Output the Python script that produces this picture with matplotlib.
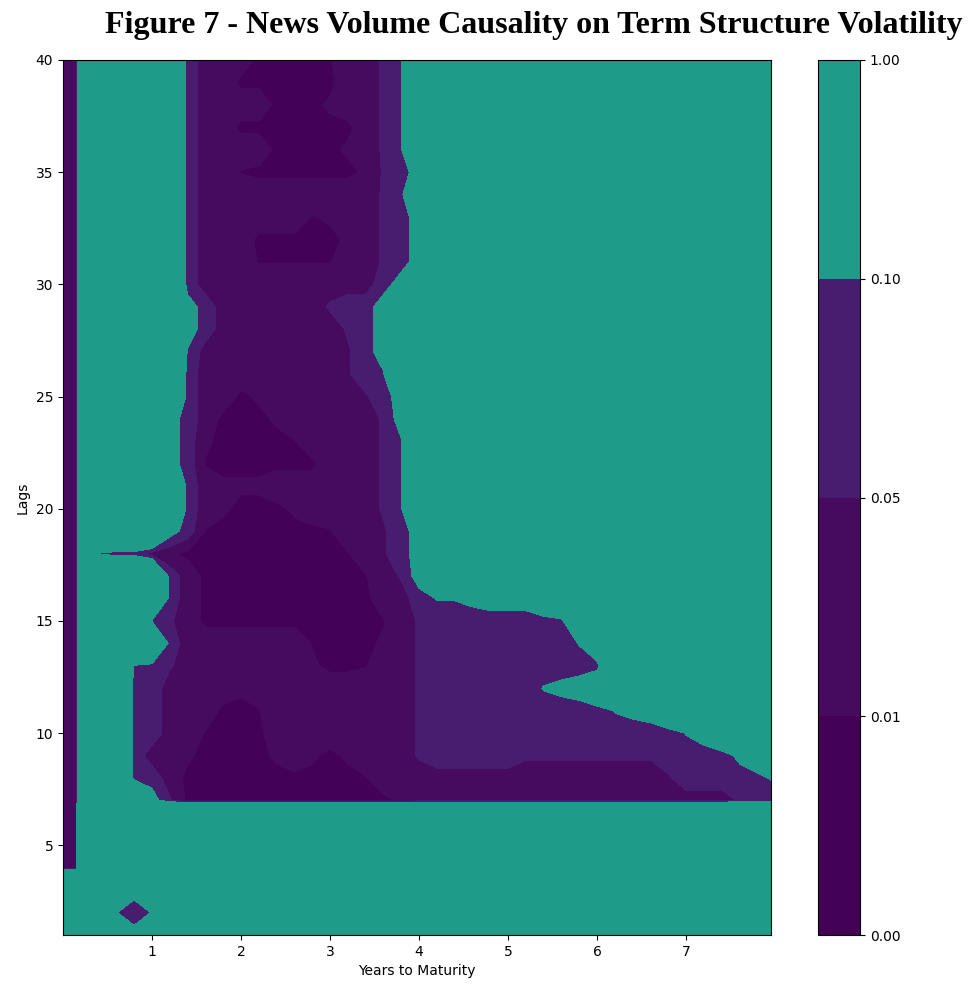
import matplotlib.pyplot as plt
import numpy as np

# maturity grid (years) and lags
maturities = [0.003, 0.15, 0.2, 0.4, 0.6, 0.8, 1.0, 1.2, 1.4, 1.6, 1.8, 2.0, 2.2, 2.4,
              2.6, 2.8, 3.0, 3.2, 3.4, 3.6, 3.8, 4.0, 4.2, 4.4, 4.6, 4.8, 5.0, 5.2,
              5.4, 5.6, 5.8, 6.0, 6.2, 6.4, 6.6, 6.8, 7.0, 7.2, 7.4, 7.6, 7.95]
lags = [40, 39, 38, 37, 36, 35, 34, 33, 32, 31, 30, 29, 28, 27, 26, 25, 24, 23, 22, 21,
        20, 19, 18, 17, 16, 15, 14, 13, 12, 11, 10, 9, 8, 7, 6, 5, 4, 3, 2, 1]

# approximate p-value for each code letter
p_codes = {'0': 0.002, '1': 0.008, '2': 0.015, '3': 0.03, '4': 0.045, '5': 0.055,
           'c': 0.06, '6': 0.075, '7': 0.095, 'x': 0.103, 'y': 0.115, '8': 0.13,
           'w': 0.2, '9': 0.35, '#': 0.9}

# one row per lag (40 at top), run-length coded as code*count along maturity
p_rows = [
    "3*2 9*6 6 3*3 0*4 1 3*2 5 7 9*20",
    "3*2 9*6 6 3*2 0*6 3*2 5 7 9*20",
    "3*2 9*6 6 3*4 0*3 2 3*2 5 7 9*20",
    "3*2 9*6 6 3*2 0*7 3 5 7 9*20",
    "3*2 9*6 6 3*4 0*4 2 3 5 7 9*20",
    "3*2 9*6 6 3*2 1 0*6 2 5 6 8 9*19",
    "3*2 9*6 6 3*10 5 6 9*20",
    "3*2 9*6 6 3*6 1 2 3*2 5 6 8 9*19",
    "3*2 9*6 6 3*3 0*5 2 3 5 6 8 9*19",
    "3*2 9*6 6 3*3 1*5 3*2 5 6 8 9*19",
    "3*2 9*6 6 3*10 6 8 9*20",
    "3*2 9*6 8 6 3*6 5 6*2 8 9*21",
    "3*2 9*6 8 6 3*7 5 6 8 9*21",
    "3*2 9*6 7 3*8 4 6 8 9*21",
    "3*2 9*6 6 3*8 4 6 7 9*21",
    "3*2 9*6 6 3*2 0 2 3*5 4 6 8 9*20",
    "3*2 9*5 8 6 3 0*3 2 3*5 5 8 9*20",
    "3*2 9*5 8 6 2 0*4 1 3*4 5 7 9*20",
    "3*2 9*5 8 6 1 0*6 3*3 5 7 9*20",
    "3*2 9*6 6 3 2*3 3*6 5 7 9*20",
    "3*2 9*6 6 3 2 0*3 2 3*4 5 7 9*20",
    "3*2 9*5 8 6 1 0*6 1 3*2 4 6 8 9*19",
    "3*2 9 7 6*2 3 2 0*9 1 3 4 6 8 9*19",
    "3*2 9*5 6 3 0*9 1 3 5 8 9*19",
    "3*2 9*5 6 3 0*10 3*2 6 x*2 y 8*3 w 9*12",
    "3*2 9*4 7 5 3 0*10 1 3 5 6*8 9*11",
    "3*2 9*5 6 3*7 1 0*3 2 3 5 6*8 x w 9*9",
    "3*2 9*3 7 6 5 3*7 2 0*2 1 3*2 5 6*10 9*9",
    "3*2 9*3 6*2 3*4 2 3*9 5 6*6 x y 8 w 9*9",
    "3*2 9*3 6*2 3*3 0*2 1 3*8 5 6*10 x y 8 w 9*5",
    "3*2 9*3 6*2 3*2 1 0*3 3*8 5 6*14 x 8 w 9*2",
    "3*2 9*3 6 3*2 2 0*4 2 3 2 0 2 3*3 5 6*5 5*8 6*4 y 9",
    "3*2 9*3 6*2 3 0*10 1 3*16 4 6*4 x",
    "3*2 9*4 8 5 0*12 2 3*18 5 6",
    "3*2 #*39",
    "3*2 #*39",
    "3*2 #*39",
    "#*5 8 #*35",
    "#*4 x c x #*34",
    "#*5 8 #*35",
]

levels = [0.0, 0.01, 0.05, 0.10, 1.00]


def decode(row):
    vals = []
    for tok in row.split():
        code, _, n = tok.partition('*')
        vals += [p_codes[code]] * int(n or 1)
    assert len(vals) == len(maturities), row
    return vals


p = np.array([decode(r) for r in p_rows])

fig = plt.figure(figsize=(9.68, 9.88), dpi=100)
ax = fig.add_axes([0.0651, 0.0536, 0.7314, 0.8857])
cs = ax.contourf(maturities, lags, p, levels=levels, cmap='viridis')
ax.set_xticks([1, 2, 3, 4, 5, 6, 7])
ax.set_yticks([5, 10, 15, 20, 25, 30, 35, 40])
ax.set_xlabel('Years to Maturity')
ax.set_ylabel('Lags')

cax = fig.add_axes([0.845, 0.0536, 0.0434, 0.8857])
fig.colorbar(cs, cax=cax, format='%.2f')

fig.text(0.551, 0.974, 'Figure 7 - News Volume Causality on Term Structure Volatility',
         ha='center', va='center', family='Liberation Serif', weight='bold', size=23)

fig.savefig('out.png', dpi=100)
